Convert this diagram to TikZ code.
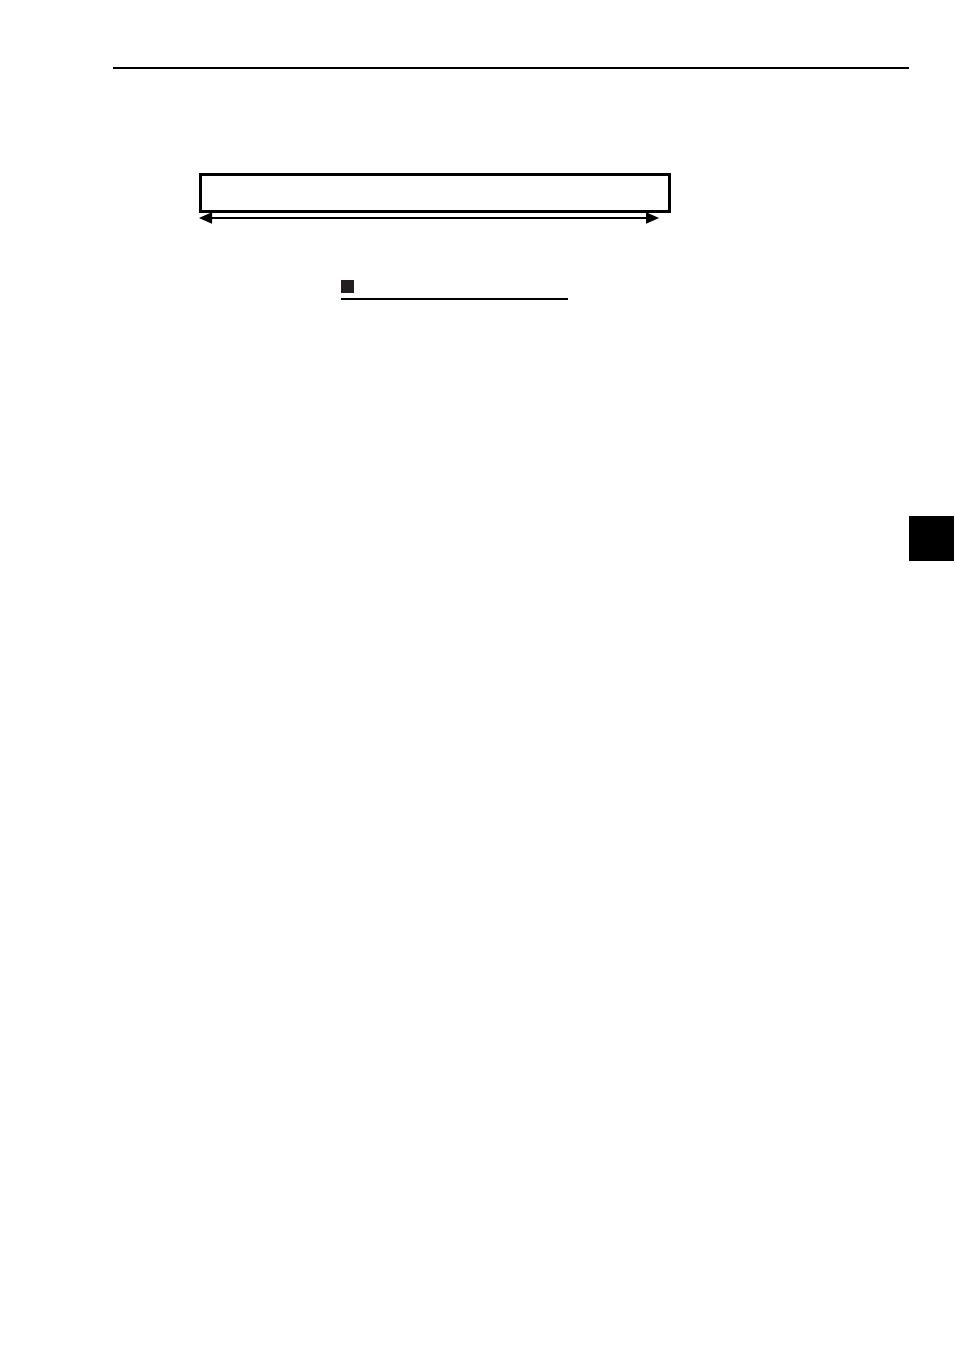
\documentclass[tikz,border=0pt]{standalone}
\usetikzlibrary{arrows.meta}
\begin{document}
\begin{tikzpicture}[x=1pt,y=-1pt,
  rule/.style={line width=1.2pt, black},
  panel/.style={draw=black, line width=2.6pt, fill=white, inner sep=0pt, minimum width=469pt, minimum height=37pt, anchor=north west},
  span/.style={line width=1.6pt, {Triangle[length=13pt,width=11pt]}-{Triangle[length=13pt,width=11pt]}},
  bullet/.style={fill={rgb,255:red,35;green,31;blue,32}, inner sep=0pt, minimum size=12.5pt, anchor=north west},
  tab/.style={fill=black, inner sep=0pt, minimum width=45pt, minimum height=45pt, anchor=north west}]
\useasboundingbox (0,0) rectangle (954,1351);
% header rule
\coordinate (hl) at (113,68);
\coordinate (hr) at (909,68);
\draw[rule] (hl) -- (hr);
% long panel
\node[panel] (box) at (199,173) {};
% dimension arrow
\coordinate (al) at (199,218);
\coordinate (ar) at (659,218);
\draw[span] (al) -- (ar);
% heading bullet and underline
\node[bullet] (sq) at (341,280) {};
\coordinate (ul) at (341,299);
\coordinate (ur) at (568,299);
\draw[line width=1.1pt] (ul) -- (ur);
% side tab
\node[tab] (side) at (909,516) {};
\end{tikzpicture}
\end{document}
